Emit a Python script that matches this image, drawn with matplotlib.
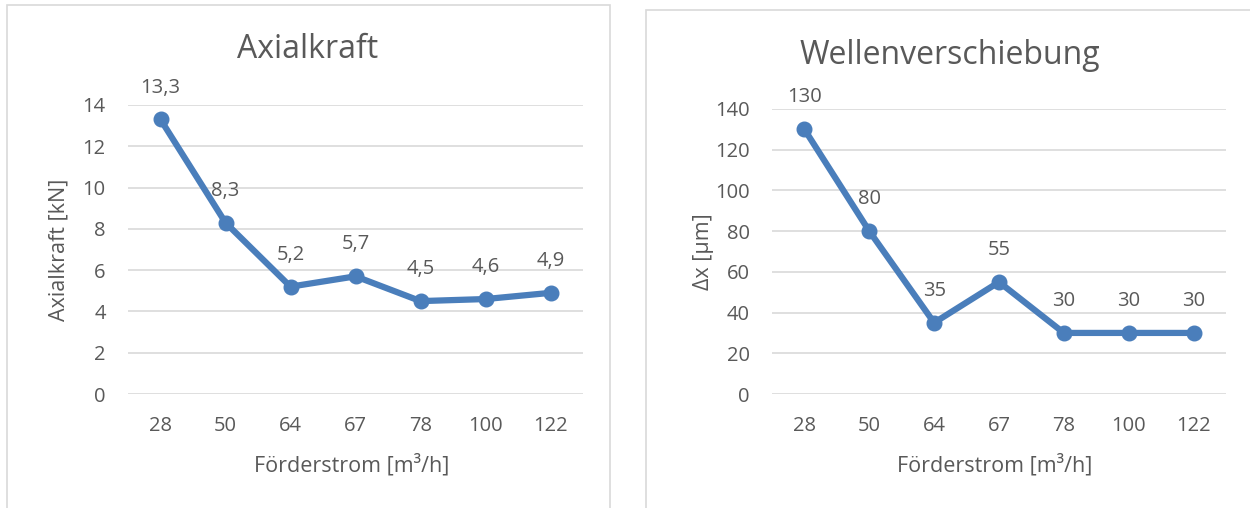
import matplotlib
matplotlib.use("Agg")
import matplotlib.pyplot as plt
from matplotlib.patches import Rectangle

plt.rcParams['font.family'] = ['Open Sans', 'DejaVu Sans']

categories = ["28", "50", "64", "67", "78", "100", "122"]
axial_force = [13.3, 8.3, 5.2, 5.7, 4.5, 4.6, 4.9]
axial_labels = ["13,3", "8,3", "5,2", "5,7", "4,5", "4,6", "4,9"]
shaft_shift = [130, 80, 35, 55, 30, 30, 30]
shaft_labels = ["130", "80", "35", "55", "30", "30", "30"]

W, H = 1250, 508
TEXT = '#595959'
GRID = '#D9D9D9'
BLUE = '#4A7EBB'

fig = plt.figure(figsize=(W / 100, H / 100), dpi=100)


def px_rect(x0, y0, x1, y1):
    return [x0 / W, 1 - y1 / H, (x1 - x0) / W, (y1 - y0) / H]


# panel frames
for (x0, y0, x1, y1) in [(7, 5, 610, 520), (646, 10, 1262, 520)]:
    fig.patches.append(Rectangle((x0 / W, 1 - y1 / H), (x1 - x0) / W, (y1 - y0) / H,
                                 transform=fig.transFigure, fill=False,
                                 edgecolor=GRID, linewidth=1.2))


def draw(rect, values, labels, ymax, ystep, title, title_xy, ylabel, ylabel_x):
    ax = fig.add_axes(px_rect(*rect))
    x = range(len(categories))
    ax.plot(x, values, color=BLUE, linewidth=4.5, marker='o', markersize=10.5,
            solid_capstyle='round', zorder=3)
    for xi, v, lab in zip(x, values, labels):
        ax.annotate(lab, (xi, v), xytext=(0, 23), textcoords='offset points',
                    ha='center', va='center', fontsize=14.5, color=TEXT)
    ax.set_xlim(-0.5, len(categories) - 0.5)
    ax.set_ylim(0, ymax)
    ax.set_yticks(range(0, ymax + 1, ystep))
    ax.set_xticks(list(x))
    ax.set_xticklabels(categories)
    ax.yaxis.grid(True, color=GRID, linewidth=1.2)
    ax.set_axisbelow(True)
    for s in ax.spines.values():
        s.set_visible(False)
    ax.tick_params(length=0, labelsize=14.5, colors=TEXT)
    ax.tick_params(axis='x', pad=16)
    ax.tick_params(axis='y', pad=16)
    fig.text(((rect[0] + rect[2]) / 2 - 4) / W, 1 - 465 / H, "Förderstrom [m³/h]",
             fontsize=15.5, color=TEXT, ha='center', va='center')
    fig.text(title_xy[0] / W, 1 - title_xy[1] / H, title, fontsize=23,
             color=TEXT, ha='center', va='center')
    fig.text(ylabel_x / W, 1 - ((rect[1] + rect[3]) / 2) / H, ylabel,
             fontsize=15.5, color=TEXT, rotation=90, ha='center', va='center')
    return ax


draw((128, 105, 583, 394), axial_force, axial_labels, 14, 2,
     "Axialkraft", (308, 50), "Axialkraft [kN]", 59)
draw((772, 109, 1226, 394), shaft_shift, shaft_labels, 140, 20,
     "Wellenverschiebung", (950, 55), "Δx [µm]", 703)

fig.savefig("out.png", dpi=100, facecolor='white')
